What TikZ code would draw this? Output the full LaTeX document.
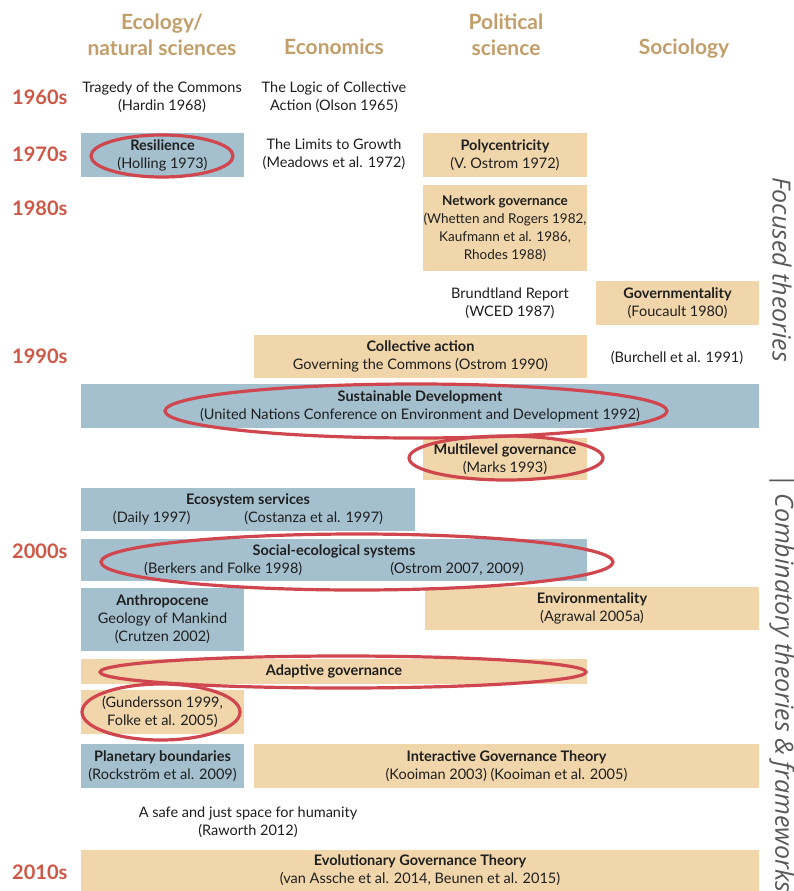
\documentclass[tikz,border=0pt]{standalone}
\usepackage{fontspec}
\setmainfont{Lato}
\newfontfamily\sidefont{Open Sans}
\usepackage{xcolor}
\definecolor{boxblue}{HTML}{A4BFCD}
\definecolor{boxtan}{HTML}{F0D6AA}
\definecolor{headtan}{HTML}{C29F6A}
\definecolor{decred}{HTML}{CF5745}
\definecolor{ringred}{HTML}{D0464F}
\tikzset{TX/.style={inner sep=0pt, align=center, text=black!88, font=\fontsize{14.5}{18}\selectfont}}
\tikzset{BL/.style={TX, rectangle, fill=boxblue}}
\tikzset{TN/.style={TX, rectangle, fill=boxtan}}
\tikzset{HD/.style={inner sep=0pt, align=center, text=headtan, font=\fontsize{21}{26}\selectfont\bfseries}}
\tikzset{DC/.style={inner sep=0pt, anchor=west, text=decred, font=\fontsize{20}{24}\selectfont\bfseries}}
\tikzset{RG/.style={draw=ringred, line width=3.2pt}}
\tikzset{SD/.style={inner sep=0pt, rotate=-90, text=black!65, font=\fontsize{25}{28}\selectfont\sidefont\itshape}}

\begin{document}
\begin{tikzpicture}[x=1pt, y=-1pt]
    \fill[white] (0,0) rectangle (793,891);
    \useasboundingbox (0,0) rectangle (793,891);

    \node[HD] (eco) at (162,35) {Ecology/\\natural sciences};
    \node[HD] (econ) at (334,47) {Economics};
    \node[HD] (pol) at (506,35) {Political\\science};
    \node[HD] (soc) at (684,49) {Sociology};

    \node[DC] (d60) at (12,97) {1960s};
    \node[DC] (d70) at (12,154) {1970s};
    \node[DC] (d80) at (12,208) {1980s};
    \node[DC] (d90) at (12,356) {1990s};
    \node[DC] (d00) at (12,551) {2000s};
    \node[DC] (d10) at (12,872) {2010s};

    \node[TX] (hardin) at (162,97) {Tragedy of the Commons\\(Hardin 1968)};
    \node[TX] (olson) at (334,97) {The Logic of Collective\\Action (Olson 1965)};
    \node[TX] (meadows) at (334,154) {The Limits to Growth\\(Meadows et al. 1972)};
    \node[TX] (wced) at (510,303) {Brundtland Report\\(WCED 1987)};
    \node[TX] (burchell) at (677,358) {(Burchell et al. 1991)};
    \node[TX] (raworth) at (248,822) {A safe and just space for humanity\\(Raworth 2012)};

    \node[BL, minimum width=163pt, minimum height=44pt] (res) at (162.5,155)
        {\textbf{Resilience}\\(Holling 1973)};
    \node[TN, minimum width=164pt, minimum height=44pt] (poly) at (505,155)
        {\textbf{Polycentricity}\\(V. Ostrom 1972)};
    \node[TN, minimum width=164pt, minimum height=86pt, font=\fontsize{13.5}{18}\selectfont] (netw) at (505,228)
        {\textbf{Network governance}\\(Whetten and Rogers 1982,\\Kaufmann et al. 1986,\\Rhodes 1988)};
    \node[TN, minimum width=163pt, minimum height=44pt] (govm) at (677.5,303)
        {\textbf{Governmentality}\\(Foucault 1980)};
    \node[TN, minimum width=333pt, minimum height=43pt] (coll) at (420.5,356.5)
        {\textbf{Collective action}\\Governing the Commons (Ostrom 1990)};
    \node[BL, minimum width=678pt, minimum height=44pt] (sdev) at (420,406)
        {\textbf{Sustainable Development}\\(United Nations Conference on Environment and Development 1992)};
    \node[TN, minimum width=164pt, minimum height=42pt] (mlg) at (505,459)
        {\textbf{Multilevel governance}\\(Marks 1993)};
    \node[BL, minimum width=334pt, minimum height=43pt] (ess) at (248,509.5)
        {\textbf{Ecosystem services}\\(Daily 1997)\hspace{54pt}(Costanza et al. 1997)};
    \node[BL, minimum width=506pt, minimum height=42pt] (ses) at (334,560)
        {\textbf{Social-ecological systems}\\(Berkers and Folke 1998)\hspace{88pt}(Ostrom 2007, 2009)};
    \node[BL, minimum width=163pt, minimum height=63pt] (anth) at (162.5,619.5)
        {\textbf{Anthropocene}\\Geology of Mankind\\(Crutzen 2002)};
    \node[TN, minimum width=334pt, minimum height=43pt] (envm) at (592,608.5)
        {\textbf{Environmentality}\\(Agrawal 2005a)};
    \node[TN, minimum width=506pt, minimum height=25pt] (adapt) at (334,671.5)
        {\textbf{Adaptive governance}};
    \node[TN, minimum width=163pt, minimum height=44pt] (gund) at (162.5,712)
        {(Gundersson 1999,\\Folke et al. 2005)};
    \node[BL, minimum width=163pt, minimum height=44pt] (plan) at (162.5,766)
        {\textbf{Planetary boundaries}\\(Rockström et al. 2009)};
    \node[TN, minimum width=505pt, minimum height=44pt] (igt) at (506.5,766)
        {\textbf{Interactive Governance Theory}\\(Kooiman 2003) (Kooiman et al. 2005)};
    \node[TN, minimum width=678pt, minimum height=41pt] (egt) at (420,870.5)
        {\textbf{Evolutionary Governance Theory}\\(van Assche et al. 2014, Beunen et al. 2015)};

    \draw[RG] (162,156) ellipse [x radius=71pt, y radius=21pt];
    \draw[RG] (416,411) ellipse [x radius=251pt, y radius=27pt];
    \draw[RG] (506,458) ellipse [x radius=97pt, y radius=22pt];
    \draw[RG] (357,562) ellipse [x radius=256pt, y radius=28pt];
    \draw[RG] (343,672) ellipse [x radius=243pt, y radius=16pt];
    \draw[RG] (161,712) ellipse [x radius=79pt, y radius=28pt];

    \node[SD] (foc) at (782,270) {Focused theories};
    \node[SD] (comb) at (782,683) {\textbar\ Combinatory theories \& frameworks};
\end{tikzpicture}
\end{document}
